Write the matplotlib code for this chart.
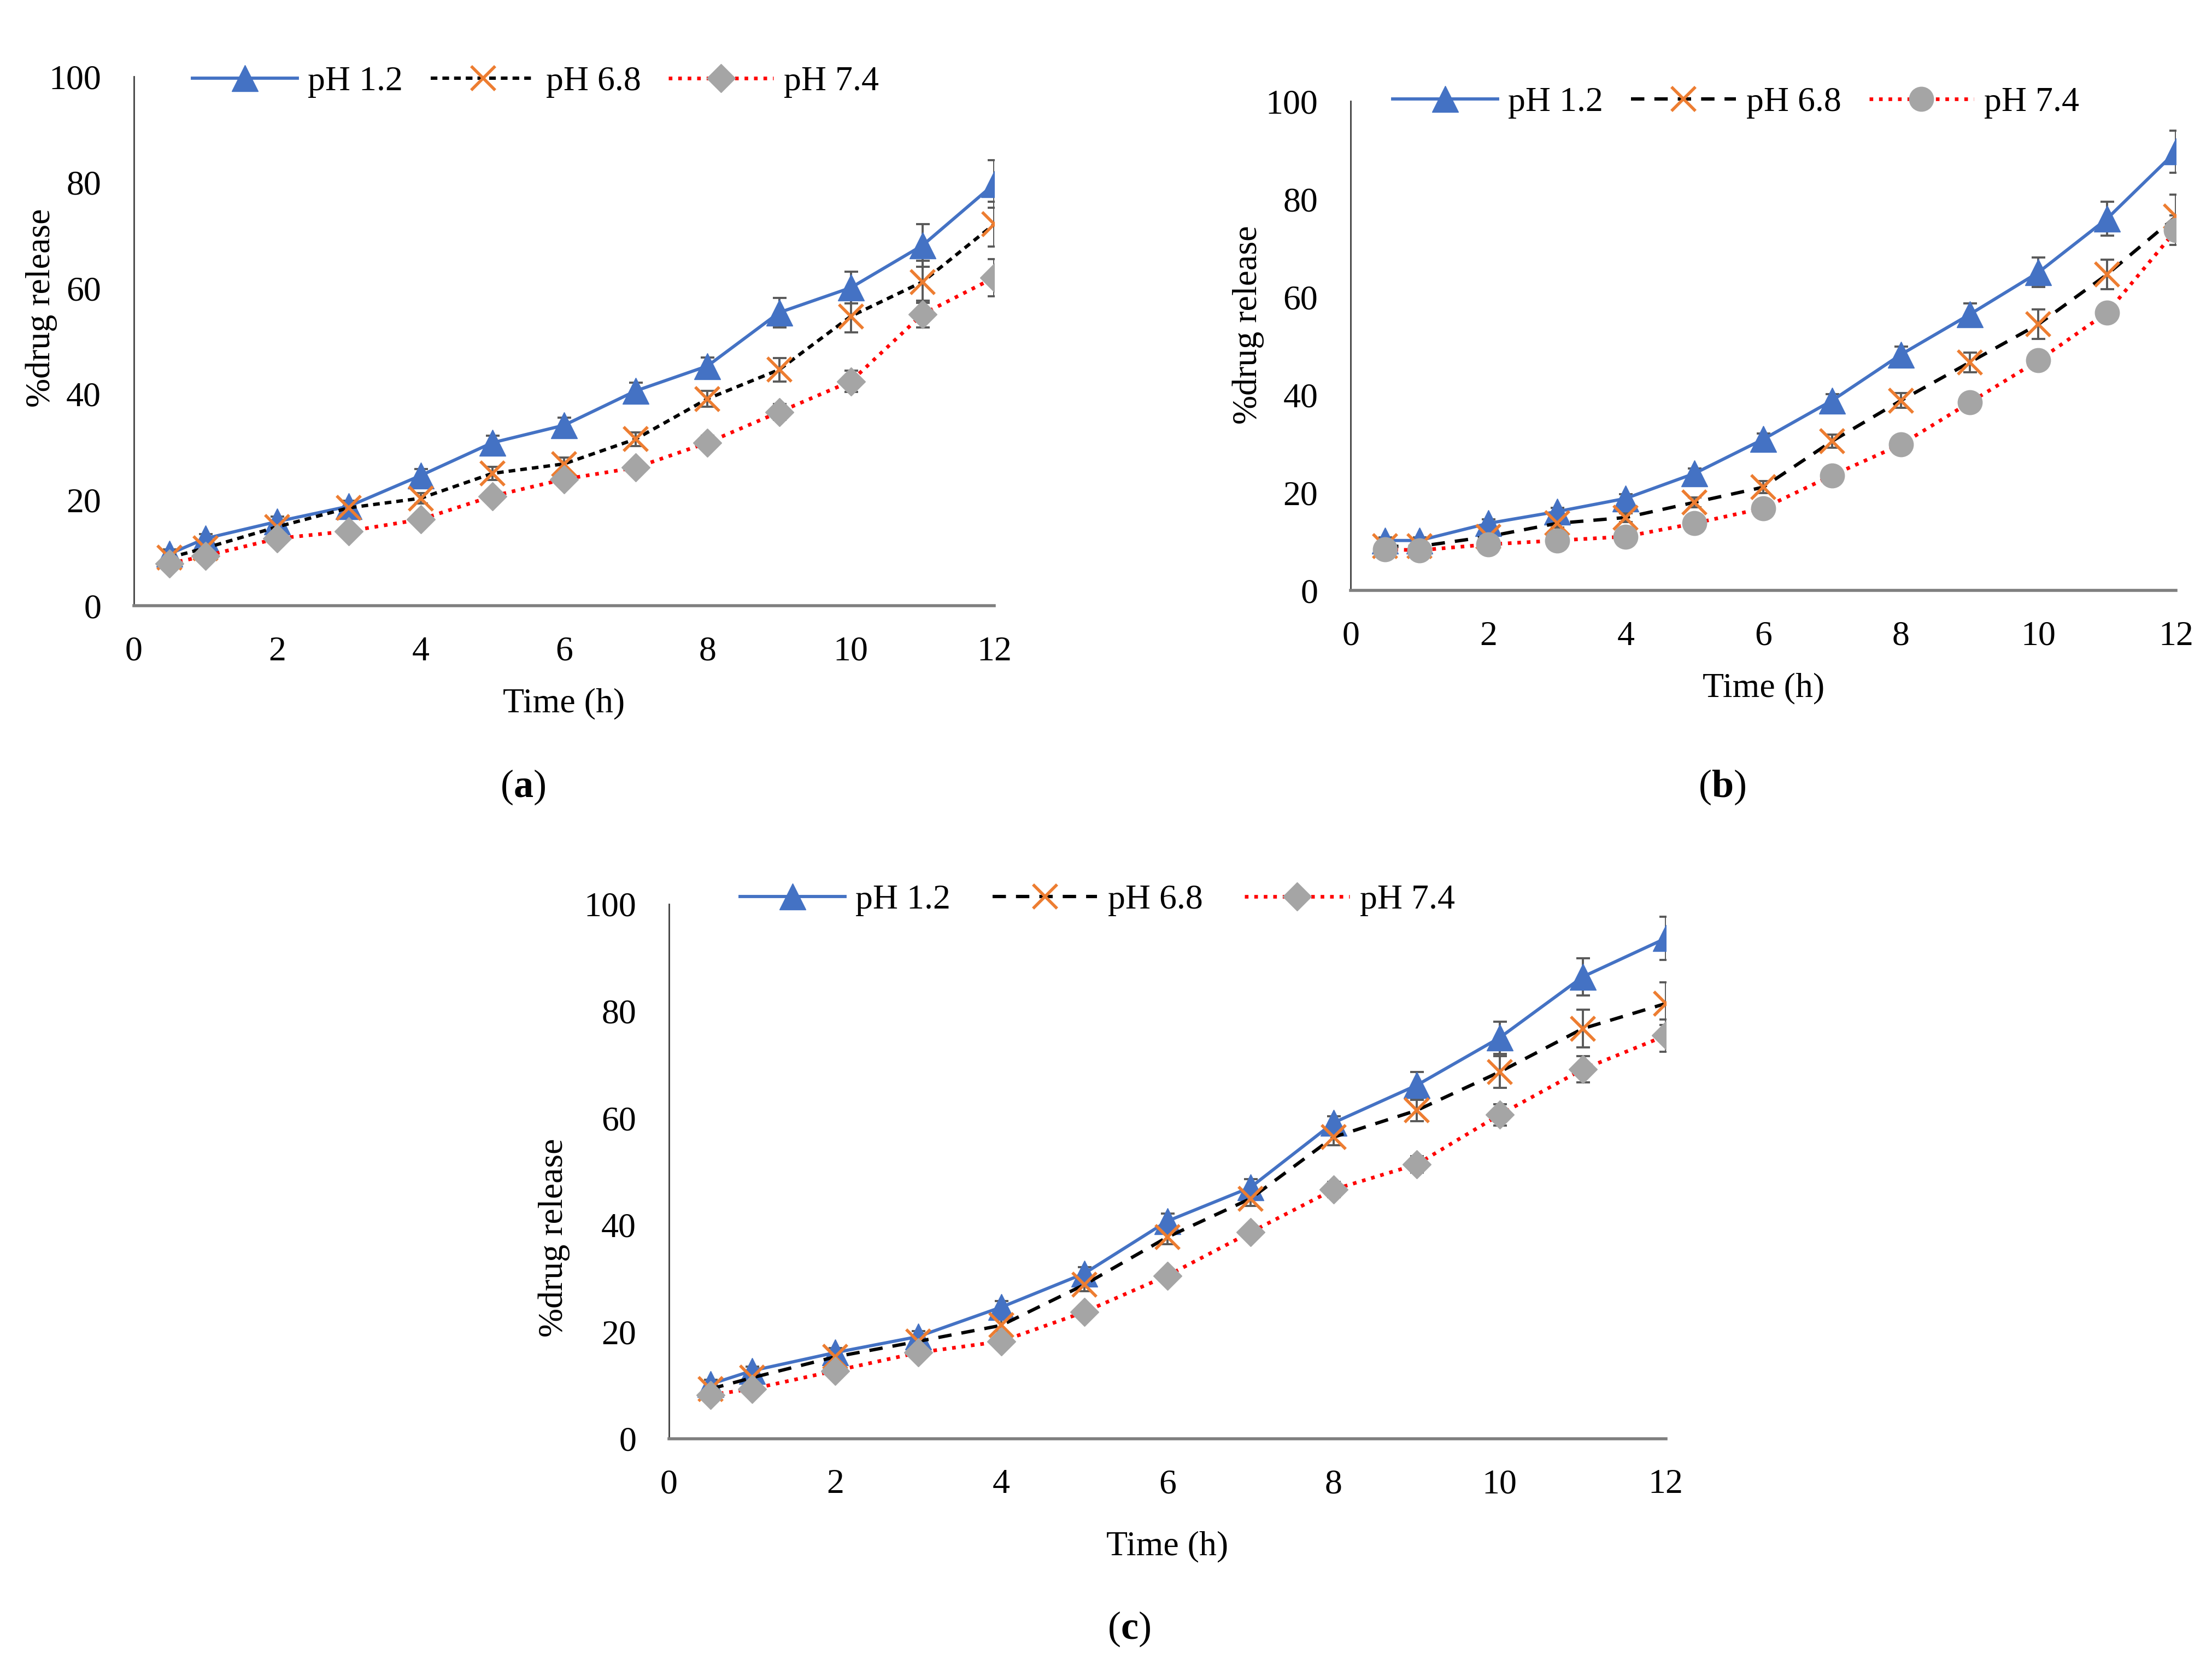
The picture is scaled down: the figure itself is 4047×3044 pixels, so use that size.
import matplotlib
matplotlib.use("Agg")
import matplotlib.pyplot as plt

plt.rcParams['font.family'] = ['Liberation Serif', 'DejaVu Serif']
plt.rcParams['mathtext.fontset'] = 'custom'
plt.rcParams['mathtext.rm'] = 'Liberation Serif'
plt.rcParams['mathtext.bf'] = 'Liberation Serif:bold'

time_h = [0.5, 1, 2, 3, 4, 5, 6, 7, 8, 9, 10, 11, 12]
x_ticks = [0, 2, 4, 6, 8, 10, 12]
y_ticks = [0, 20, 40, 60, 80, 100]
series_labels = ["pH 1.2", "pH 6.8", "pH 7.4"]

# Panel (a)
a_ph12 = [9.8, 12.7, 15.9, 18.8, 24.6, 30.8, 34.1, 40.6, 45.3, 55.4, 60.1, 68.1, 79.7]
a_ph12_err = [0.8, 0.8, 0.9, 1.0, 1.2, 1.3, 1.4, 1.5, 1.6, 2.8, 3.0, 4.0, 4.5]
a_ph68 = [9.1, 10.9, 14.9, 18.5, 20.3, 25.0, 26.8, 31.5, 39.1, 44.6, 54.7, 61.2, 72.1]
a_ph68_err = [0.8, 0.8, 0.9, 1.0, 1.0, 1.2, 1.2, 1.3, 1.5, 2.2, 3.0, 4.0, 4.2]
a_ph74 = [8.0, 9.4, 12.7, 14.1, 16.3, 20.7, 23.9, 26.1, 30.8, 36.6, 42.4, 55.1, 62.0]
a_ph74_err = [0.6, 0.7, 0.8, 0.8, 0.9, 1.0, 1.1, 1.2, 1.3, 1.5, 2.0, 2.5, 3.5]

# Panel (b)
b_ph12 = [10.2, 10.2, 13.7, 16.1, 18.8, 23.9, 30.9, 38.8, 48.2, 56.4, 65.0, 76.0, 89.7]
b_ph12_err = [0.6, 0.6, 0.8, 0.8, 0.9, 1.0, 1.2, 1.3, 1.6, 2.3, 3.0, 3.5, 4.3]
b_ph68 = [9.0, 9.0, 11.0, 13.7, 14.9, 18.0, 21.1, 30.5, 38.8, 46.6, 54.4, 64.6, 76.4]
b_ph68_err = [0.5, 0.5, 0.7, 0.8, 0.9, 1.0, 1.2, 1.3, 1.5, 2.0, 3.0, 3.0, 4.5]
b_ph74 = [8.4, 8.2, 9.4, 10.2, 11.0, 13.7, 16.8, 23.5, 29.8, 38.4, 47.0, 56.8, 73.6]
b_ph74_err = [0.5, 0.5, 0.6, 0.6, 0.7, 0.8, 0.9, 1.0, 1.2, 1.4, 1.5, 1.8, 3.0]

# Panel (c)
c_ph12 = [10.2, 12.7, 16.1, 19.1, 24.6, 30.9, 40.7, 47.0, 59.1, 66.1, 75.0, 86.4, 93.6]
c_ph12_err = [0.8, 0.8, 0.9, 1.0, 1.1, 1.2, 1.4, 1.5, 1.2, 2.5, 3.0, 3.5, 4.0]
c_ph68 = [9.3, 11.4, 15.3, 18.2, 21.2, 28.8, 37.7, 44.9, 56.4, 61.4, 68.6, 76.7, 81.4]
c_ph68_err = [0.7, 0.8, 0.9, 1.0, 1.1, 1.2, 1.3, 1.4, 1.5, 2.0, 3.0, 3.5, 4.0]
c_ph74 = [8.2, 9.3, 12.7, 16.1, 18.2, 23.7, 30.5, 38.6, 46.6, 51.3, 60.6, 69.1, 75.4]
c_ph74_err = [0.6, 0.7, 0.8, 0.9, 1.0, 1.1, 1.2, 1.3, 1.4, 1.5, 2.0, 2.5, 3.0]

BLUE = '#4472C4'
ORANGE = '#ED7D31'
GRAY = '#A5A5A5'
RED = '#FF0000'
ERRC = '#595959'

fig = plt.figure(figsize=(40.47, 30.44), dpi=100)

panels = [
    dict(rect=[0.0605, 0.636, 0.389, 0.318], data=(a_ph12, a_ph12_err, a_ph68, a_ph68_err, a_ph74, a_ph74_err),
         m74='D', ms74=26, dash68=(0, (2.0, 1.5)), leg=(0.467, 0.99), ylab=(-0.089, 0.563), xlab=-0.155,
         cap='a', capxy=(0.2328, 0.527), colsp=0.8),
    dict(rect=[0.6106, 0.6452, 0.3731, 0.294], data=(b_ph12, b_ph12_err, b_ph68, b_ph68_err, b_ph74, b_ph74_err),
         m74='o', ms74=32, dash68=(0, (4.0, 3.0)), leg=(0.467, 0.997), ylab=(-0.105, 0.543), xlab=-0.168,
         cap='b', capxy=(0.775, 0.527), colsp=0.8),
    dict(rect=[0.3024, 0.1354, 0.4507, 0.3213], data=(c_ph12, c_ph12_err, c_ph68, c_ph68_err, c_ph74, c_ph74_err),
         m74='D', ms74=26, dash68=(0, (4.0, 3.0)), leg=(0.43, 1.007), ylab=(-0.099, 0.376), xlab=-0.172,
         cap='c', capxy=(0.507, 0.021), colsp=1.2),
]

for p in panels:
    ax = fig.add_axes(p['rect'])
    y12, e12, y68, e68, y74, e74 = p['data']
    for yv, ev in ((y12, e12), (y68, e68), (y74, e74)):
        ax.errorbar(time_h, yv, yerr=ev, fmt='none', ecolor=ERRC, elinewidth=2.8,
                    capsize=9, capthick=2.8, zorder=1.5)
    ax.plot(time_h, y12, color=BLUE, lw=4.2, marker='^', ms=34, mfc=BLUE, mec=BLUE,
            label=series_labels[0], zorder=2)
    ax.plot(time_h, y68, color='black', lw=4.4, linestyle=p['dash68'], marker='x', ms=32,
            mec=ORANGE, mew=4.0, label=series_labels[1], zorder=3)
    ax.plot(time_h, y74, color=RED, lw=4.8, linestyle=(0, (1.0, 1.6)), marker=p['m74'], ms=p['ms74'],
            mfc=GRAY, mec=GRAY, label=series_labels[2], zorder=4)

    ax.set_xlim(0, 12)
    ax.set_ylim(0, 100)
    ax.set_xticks(x_ticks)
    ax.set_yticks(y_ticks)
    ax.tick_params(axis='both', length=0, labelsize=46)
    ax.tick_params(axis='x', pad=40)
    ax.tick_params(axis='y', pad=43)
    for s in ['top', 'right']:
        ax.spines[s].set_visible(False)
    ax.spines['left'].set_color('#404040')
    ax.spines['left'].set_linewidth(2.0)
    ax.spines['bottom'].set_color('#7F7F7F')
    ax.spines['bottom'].set_linewidth(4.0)
    ax.spines['left'].set_zorder(1)
    ax.spines['bottom'].set_zorder(1)

    ax.set_ylabel('%drug release', fontsize=46)
    ax.yaxis.set_label_coords(*p['ylab'])
    ax.set_xlabel('Time (h)', fontsize=46)
    ax.xaxis.set_label_coords(0.5, p['xlab'])

    ax.legend(loc='center', bbox_to_anchor=p['leg'], ncol=3, frameon=False, fontsize=46,
              handlelength=3.0, handletextpad=0.3, columnspacing=p['colsp'], borderpad=0.1)

    fig.text(p['capxy'][0] + 0.0035, p['capxy'][1], r'($\mathbf{%s}$)' % p['cap'], fontsize=52,
             ha='center', va='center')

fig.savefig('out.png', dpi=100)
